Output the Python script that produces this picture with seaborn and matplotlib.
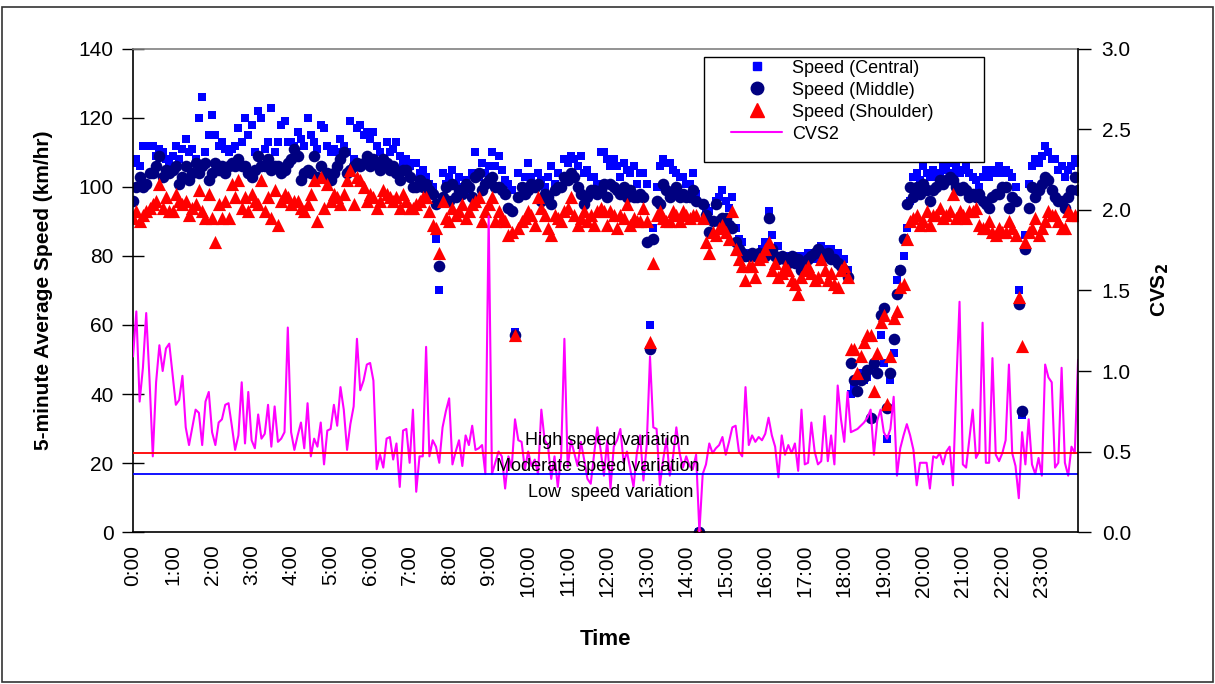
import numpy as np
import pandas as pd
import seaborn as sns
import matplotlib
matplotlib.use("Agg")
import matplotlib.pyplot as plt
from matplotlib.lines import Line2D
from matplotlib.patches import Rectangle


# 5-minute intervals, one row of 12 values per hour
hour_labels = [f"{h}:00" for h in range(24)]

central = [
    107, 108, 106, 112, 112, 112, 112, 109, 111, 110, 108, 107,
    109, 112, 108, 111, 114, 110, 111, 108, 120, 126, 110, 115,
    121, 115, 112, 113, 111, 110, 111, 112, 117, 113, 120, 115,
    118, 110, 122, 120, 111, 113, 123, 110, 113, 118, 119, 113,
    113, 112, 116, 114, 112, 120, 115, 113, 111, 118, 117, 112,
    110, 111, 110, 114, 112, 110, 119, 108, 117, 118, 115, 116,
    114, 116, 112, 110, 108, 113, 110, 111, 113, 109, 107, 108,
    106, 107, 107, 104, 105, 103, 101, 100, 85, 70, 104, 101,
    103, 105, 101, 103, 100, 102, 99, 104, 110, 103, 107, 104,
    106, 110, 106, 109, 105, 102, 101, 99, 58, 104, 100, 103,
    107, 103, 101, 104, 102, 100, 103, 106, 101, 104, 100, 108,
    107, 109, 108, 106, 109, 104, 105, 103, 103, 101, 110, 110,
    108, 106, 108, 106, 103, 107, 105, 104, 106, 101, 104, 104,
    101, 60, 88, 100, 106, 108, 107, 107, 105, 104, 103, 103,
    101, 101, 104, 98, 0, 95, 94, 93, 90, 96, 97, 99,
    96, 94, 97, 88, 85, 84, 81, 80, 81, 80, 81, 82,
    84, 93, 86, 80, 83, 80, 80, 79, 79, 78, 80, 79,
    80, 81, 80, 79, 80, 83, 82, 81, 82, 81, 81, 79,
    79, 76, 40, 42, 41, 46, 44, 45, 47, 47, 46, 57,
    49, 27, 44, 52, 73, 76, 80, 88, 96, 103, 104, 102,
    106, 104, 103, 105, 103, 104, 106, 105, 107, 104, 106, 104,
    105, 106, 104, 103, 102, 100, 103, 105, 103, 105, 104, 106,
    104, 105, 104, 103, 100, 70, 34, 86, 101, 106, 108, 107,
    109, 112, 110, 108, 108, 105, 106, 103, 105, 106, 108, 107,
]

middle = [
    96, 100, 103, 100, 101, 104, 104, 106, 109, 103, 105, 104,
    105, 106, 101, 103, 106, 102, 104, 107, 104, 106, 107, 102,
    104, 107, 105, 106, 104, 106, 107, 106, 108, 106, 106, 104,
    103, 105, 109, 106, 106, 108, 105, 106, 106, 104, 105, 107,
    108, 111, 109, 102, 104, 105, 104, 109, 103, 106, 103, 104,
    102, 104, 106, 108, 110, 104, 105, 106, 107, 106, 107, 109,
    106, 108, 107, 105, 108, 107, 105, 106, 104, 102, 105, 105,
    103, 100, 100, 102, 100, 101, 99, 98, 95, 77, 97, 100,
    96, 101, 97, 99, 98, 101, 100, 97, 103, 104, 99, 101,
    102, 103, 100, 100, 99, 98, 94, 93, 57, 97, 100, 98,
    99, 101, 100, 101, 96, 98, 97, 95, 99, 100, 100, 103,
    102, 104, 103, 100, 98, 95, 97, 99, 99, 98, 99, 101,
    97, 101, 100, 99, 98, 100, 97, 99, 97, 97, 98, 97,
    84, 53, 85, 96, 95, 101, 99, 97, 98, 100, 97, 98,
    97, 97, 99, 96, 0, 95, 92, 87, 90, 95, 90, 91,
    91, 89, 88, 84, 82, 81, 80, 80, 81, 80, 81, 80,
    80, 91, 82, 80, 79, 80, 79, 78, 80, 78, 79, 76,
    78, 79, 80, 81, 82, 81, 80, 81, 79, 79, 78, 77,
    76, 74, 49, 44, 41, 44, 45, 47, 33, 49, 46, 63,
    65, 36, 46, 56, 69, 76, 85, 95, 100, 97, 100, 98,
    101, 99, 96, 99, 100, 102, 101, 102, 103, 102, 100, 99,
    100, 99, 97, 98, 97, 98, 96, 95, 94, 97, 98, 98,
    100, 100, 94, 97, 96, 66, 35, 82, 94, 100, 97, 99,
    101, 103, 102, 99, 97, 96, 96, 94, 97, 99, 103, 99,
]

shoulder = [
    91, 93, 90, 92, 93, 94, 95, 96, 101, 94, 97, 93,
    93, 98, 96, 95, 96, 92, 94, 95, 99, 93, 91, 98,
    91, 84, 95, 91, 96, 91, 101, 97, 102, 94, 97, 93,
    98, 96, 95, 102, 93, 97, 91, 99, 89, 96, 98, 97,
    95, 96, 96, 94, 93, 95, 98, 102, 90, 103, 94, 101,
    96, 98, 97, 95, 98, 102, 105, 95, 103, 102, 100, 96,
    98, 97, 94, 96, 99, 98, 97, 96, 97, 94, 98, 96,
    94, 94, 95, 96, 97, 97, 93, 89, 88, 81, 96, 91,
    90, 94, 92, 93, 95, 91, 93, 95, 96, 97, 90, 93,
    95, 97, 90, 93, 91, 90, 86, 87, 57, 88, 90, 91,
    93, 92, 89, 97, 94, 92, 88, 86, 92, 91, 90, 93,
    94, 97, 92, 89, 91, 93, 90, 92, 89, 93, 94, 93,
    89, 93, 92, 88, 92, 91, 95, 89, 91, 90, 90, 94,
    90, 55, 78, 92, 93, 91, 90, 90, 93, 92, 90, 93,
    92, 91, 92, 92, 0, 91, 84, 81, 87, 86, 88, 89,
    87, 85, 93, 82, 79, 77, 73, 77, 77, 74, 79, 80,
    82, 84, 76, 78, 74, 75, 77, 76, 73, 72, 69, 74,
    76, 77, 75, 73, 74, 79, 76, 73, 75, 72, 71, 76,
    77, 74, 53, 53, 46, 51, 55, 57, 57, 41, 52, 61,
    63, 37, 51, 62, 64, 71, 72, 85, 90, 91, 92, 89,
    90, 93, 89, 92, 92, 94, 91, 92, 93, 98, 91, 93,
    92, 91, 93, 93, 94, 89, 88, 88, 90, 87, 86, 88,
    87, 87, 90, 88, 86, 68, 54, 84, 87, 88, 91, 86,
    88, 90, 93, 92, 92, 90, 88, 88, 93, 92, 92, 92,
]

cvs2 = [
    1.09, 1.37, 0.81, 1.02, 1.36, 0.95, 0.47, 0.93, 1.16, 1.00, 1.14, 1.17,
    0.98, 0.79, 0.82, 0.97, 0.65, 0.54, 0.65, 0.76, 0.74, 0.54, 0.81, 0.87,
    0.62, 0.54, 0.68, 0.70, 0.79, 0.80, 0.66, 0.51, 0.60, 0.93, 0.55, 0.87,
    0.57, 0.52, 0.73, 0.58, 0.61, 0.79, 0.53, 0.78, 0.56, 0.58, 0.62, 1.27,
    0.62, 0.51, 0.60, 0.68, 0.52, 0.80, 0.47, 0.58, 0.53, 0.68, 0.42, 0.63,
    0.64, 0.79, 0.66, 0.90, 0.76, 0.51, 0.67, 0.78, 1.20, 0.88, 0.94, 1.04,
    1.05, 0.94, 0.39, 0.48, 0.40, 0.58, 0.59, 0.45, 0.55, 0.28, 0.63, 0.64,
    0.43, 0.76, 0.25, 0.47, 0.47, 1.15, 0.47, 0.57, 0.53, 0.43, 0.65, 0.75,
    0.83, 0.42, 0.50, 0.57, 0.41, 0.60, 0.54, 0.66, 0.51, 0.52, 0.54, 0.36,
    1.96, 0.36, 0.43, 0.50, 0.47, 0.27, 0.47, 0.40, 0.70, 0.57, 0.56, 0.39,
    0.50, 0.41, 0.45, 0.36, 0.76, 0.57, 0.54, 0.33, 0.47, 0.28, 0.47, 1.20,
    0.40, 0.57, 0.49, 0.41, 0.56, 0.45, 0.33, 0.30, 0.48, 0.65, 0.51, 0.35,
    0.57, 0.27, 0.53, 0.57, 0.64, 0.43, 0.50, 0.39, 0.28, 0.49, 0.60, 0.32,
    0.54, 1.09, 0.65, 0.64, 0.29, 0.45, 0.58, 0.35, 0.47, 0.65, 0.49, 0.40,
    0.47, 0.41, 0.39, 0.48, 0.00, 0.36, 0.42, 0.55, 0.49, 0.52, 0.54, 0.59,
    0.48, 0.56, 0.65, 0.66, 0.50, 0.47, 0.90, 0.54, 0.60, 0.56, 0.59, 0.57,
    0.61, 0.71, 0.60, 0.53, 0.34, 0.60, 0.48, 0.54, 0.49, 0.55, 0.38, 0.76,
    0.42, 0.43, 0.68, 0.50, 0.42, 0.44, 0.72, 0.44, 0.60, 0.42, 0.91, 0.70,
    0.56, 0.87, 0.62, 0.63, 0.64, 0.66, 0.68, 0.71, 0.76, 0.48, 0.69, 0.76,
    0.62, 0.58, 0.64, 0.84, 0.35, 0.52, 0.60, 0.67, 0.60, 0.51, 0.29, 0.43,
    0.43, 0.43, 0.27, 0.47, 0.46, 0.49, 0.42, 0.50, 0.53, 0.29, 0.90, 1.43,
    0.42, 0.40, 0.58, 0.76, 0.46, 0.50, 1.30, 0.43, 0.43, 1.08, 0.48, 0.44,
    0.49, 0.57, 1.04, 0.49, 0.41, 0.21, 0.62, 0.42, 0.70, 0.42, 0.36, 0.46,
    0.35, 1.04, 0.96, 0.93, 0.40, 0.43, 1.02, 0.43, 0.35, 0.53, 0.49, 1.07,
]

high_level = 0.49   # threshold lines on the CVS2 axis
low_level = 0.363

df = pd.DataFrame({"t": np.arange(len(central)), "central": central,
                   "middle": middle, "shoulder": shoulder, "cvs2": cvs2})

sns.set_style("white")
plt.rcParams["font.family"] = ["Liberation Sans", "DejaVu Sans"]
plt.rcParams["text.color"] = "black"
plt.rcParams["axes.labelcolor"] = "black"
plt.rcParams["xtick.color"] = "black"
plt.rcParams["ytick.color"] = "black"

fig = plt.figure(figsize=(12.15, 6.84), dpi=100)
ax = fig.add_axes([0.1095, 0.2222, 0.7778, 0.7062])
ax2 = ax.twinx()

sns.scatterplot(data=df, x="t", y="central", ax=ax, marker="s", color="#0000FF",
                s=28, linewidth=0, legend=False)
sns.scatterplot(data=df, x="t", y="middle", ax=ax, marker="o", color="#000080",
                s=70, linewidth=0, legend=False)
sns.scatterplot(data=df, x="t", y="shoulder", ax=ax, marker="^", color="#FF0000",
                s=90, linewidth=0, legend=False)

sns.lineplot(data=df, x="t", y="cvs2", ax=ax2, color="#FF00FF", lw=1.5,
             estimator=None, legend=False)
ax2.axhline(high_level, color="#FF0000", lw=1.3)
ax2.axhline(low_level, color="#0000FF", lw=1.3)

ax2.text(144, 0.57, "High speed variation", ha="center", va="center", fontsize=13)
ax2.text(141, 0.405, "Moderate speed variation", ha="center", va="center", fontsize=13)
ax2.text(145, 0.245, "Low  speed variation", ha="center", va="center", fontsize=13)

ax.set_xlim(0, len(central) - 1)
ax.set_ylim(0, 140)
ax2.set_ylim(0, 3.0)
ax.set_yticks(range(0, 141, 20))
ax2.set_yticks(np.arange(0, 3.01, 0.5))
ax2.set_yticklabels([f"{v:.1f}" for v in np.arange(0, 3.01, 0.5)])
ax.set_xticks(range(0, len(central), 12))
ax.set_xticklabels(hour_labels, rotation=90)

ax.tick_params(axis="x", length=0, pad=9, labelsize=15, colors="black")
ax.tick_params(axis="y", direction="inout", length=16, width=1, pad=6, labelsize=15,
               colors="black")
ax2.tick_params(axis="y", direction="out", length=9, width=1, pad=8, labelsize=15,
                colors="black")

ax.set_xlabel("Time", fontsize=16, fontweight="bold", color="black")
ax.xaxis.set_label_coords(0.5, -0.2)
ax.set_ylabel("5-minute Average Speed (km/hr)", fontsize=15, fontweight="bold",
              color="black")
ax.yaxis.set_label_coords(-0.085, 0.5)
ax2.set_ylabel("CVS$_\\mathbf{2}$", fontsize=15, fontweight="bold", color="black")
ax2.yaxis.set_label_coords(1.076, 0.5)

for name, sp in ax.spines.items():
    sp.set_linewidth(1.2)
    sp.set_color("black")
ax.spines["top"].set_color("#808080")
ax.spines["right"].set_visible(False)
for name in ["left", "top", "bottom"]:
    ax2.spines[name].set_visible(False)
ax2.spines["right"].set_linewidth(1.2)
ax2.spines["right"].set_color("black")

# legend
handles = [
    Line2D([], [], ls="none", marker="s", color="#0000FF", markersize=6),
    Line2D([], [], ls="none", marker="o", color="#000080", markersize=9),
    Line2D([], [], ls="none", marker="^", color="#FF0000", markersize=10),
    Line2D([], [], color="#FF00FF", lw=1.5),
]
labels = ["Speed (Central)", "Speed (Middle)", "Speed (Shoulder)", "CVS2"]
ax2.add_patch(Rectangle((0.6042, 0.766), 0.2963, 0.2174, transform=ax2.transAxes,
                        facecolor="white", edgecolor="black", lw=1, zorder=5))
leg = ax2.legend(handles, labels, loc="upper left", bbox_to_anchor=(0.633, 0.978),
                 frameon=False, fontsize=13, borderpad=0, borderaxespad=0,
                 handlelength=2.8, handletextpad=0.55, labelspacing=0.28)
leg.set_zorder(6)
for txt in leg.get_texts():
    txt.set_color("black")

fig.patches.append(Rectangle((0.002, 0.003), 0.996, 0.987, transform=fig.transFigure,
                             fill=False, edgecolor="#333333", lw=1.2))

fig.savefig("out.png", dpi=100, facecolor="white")
